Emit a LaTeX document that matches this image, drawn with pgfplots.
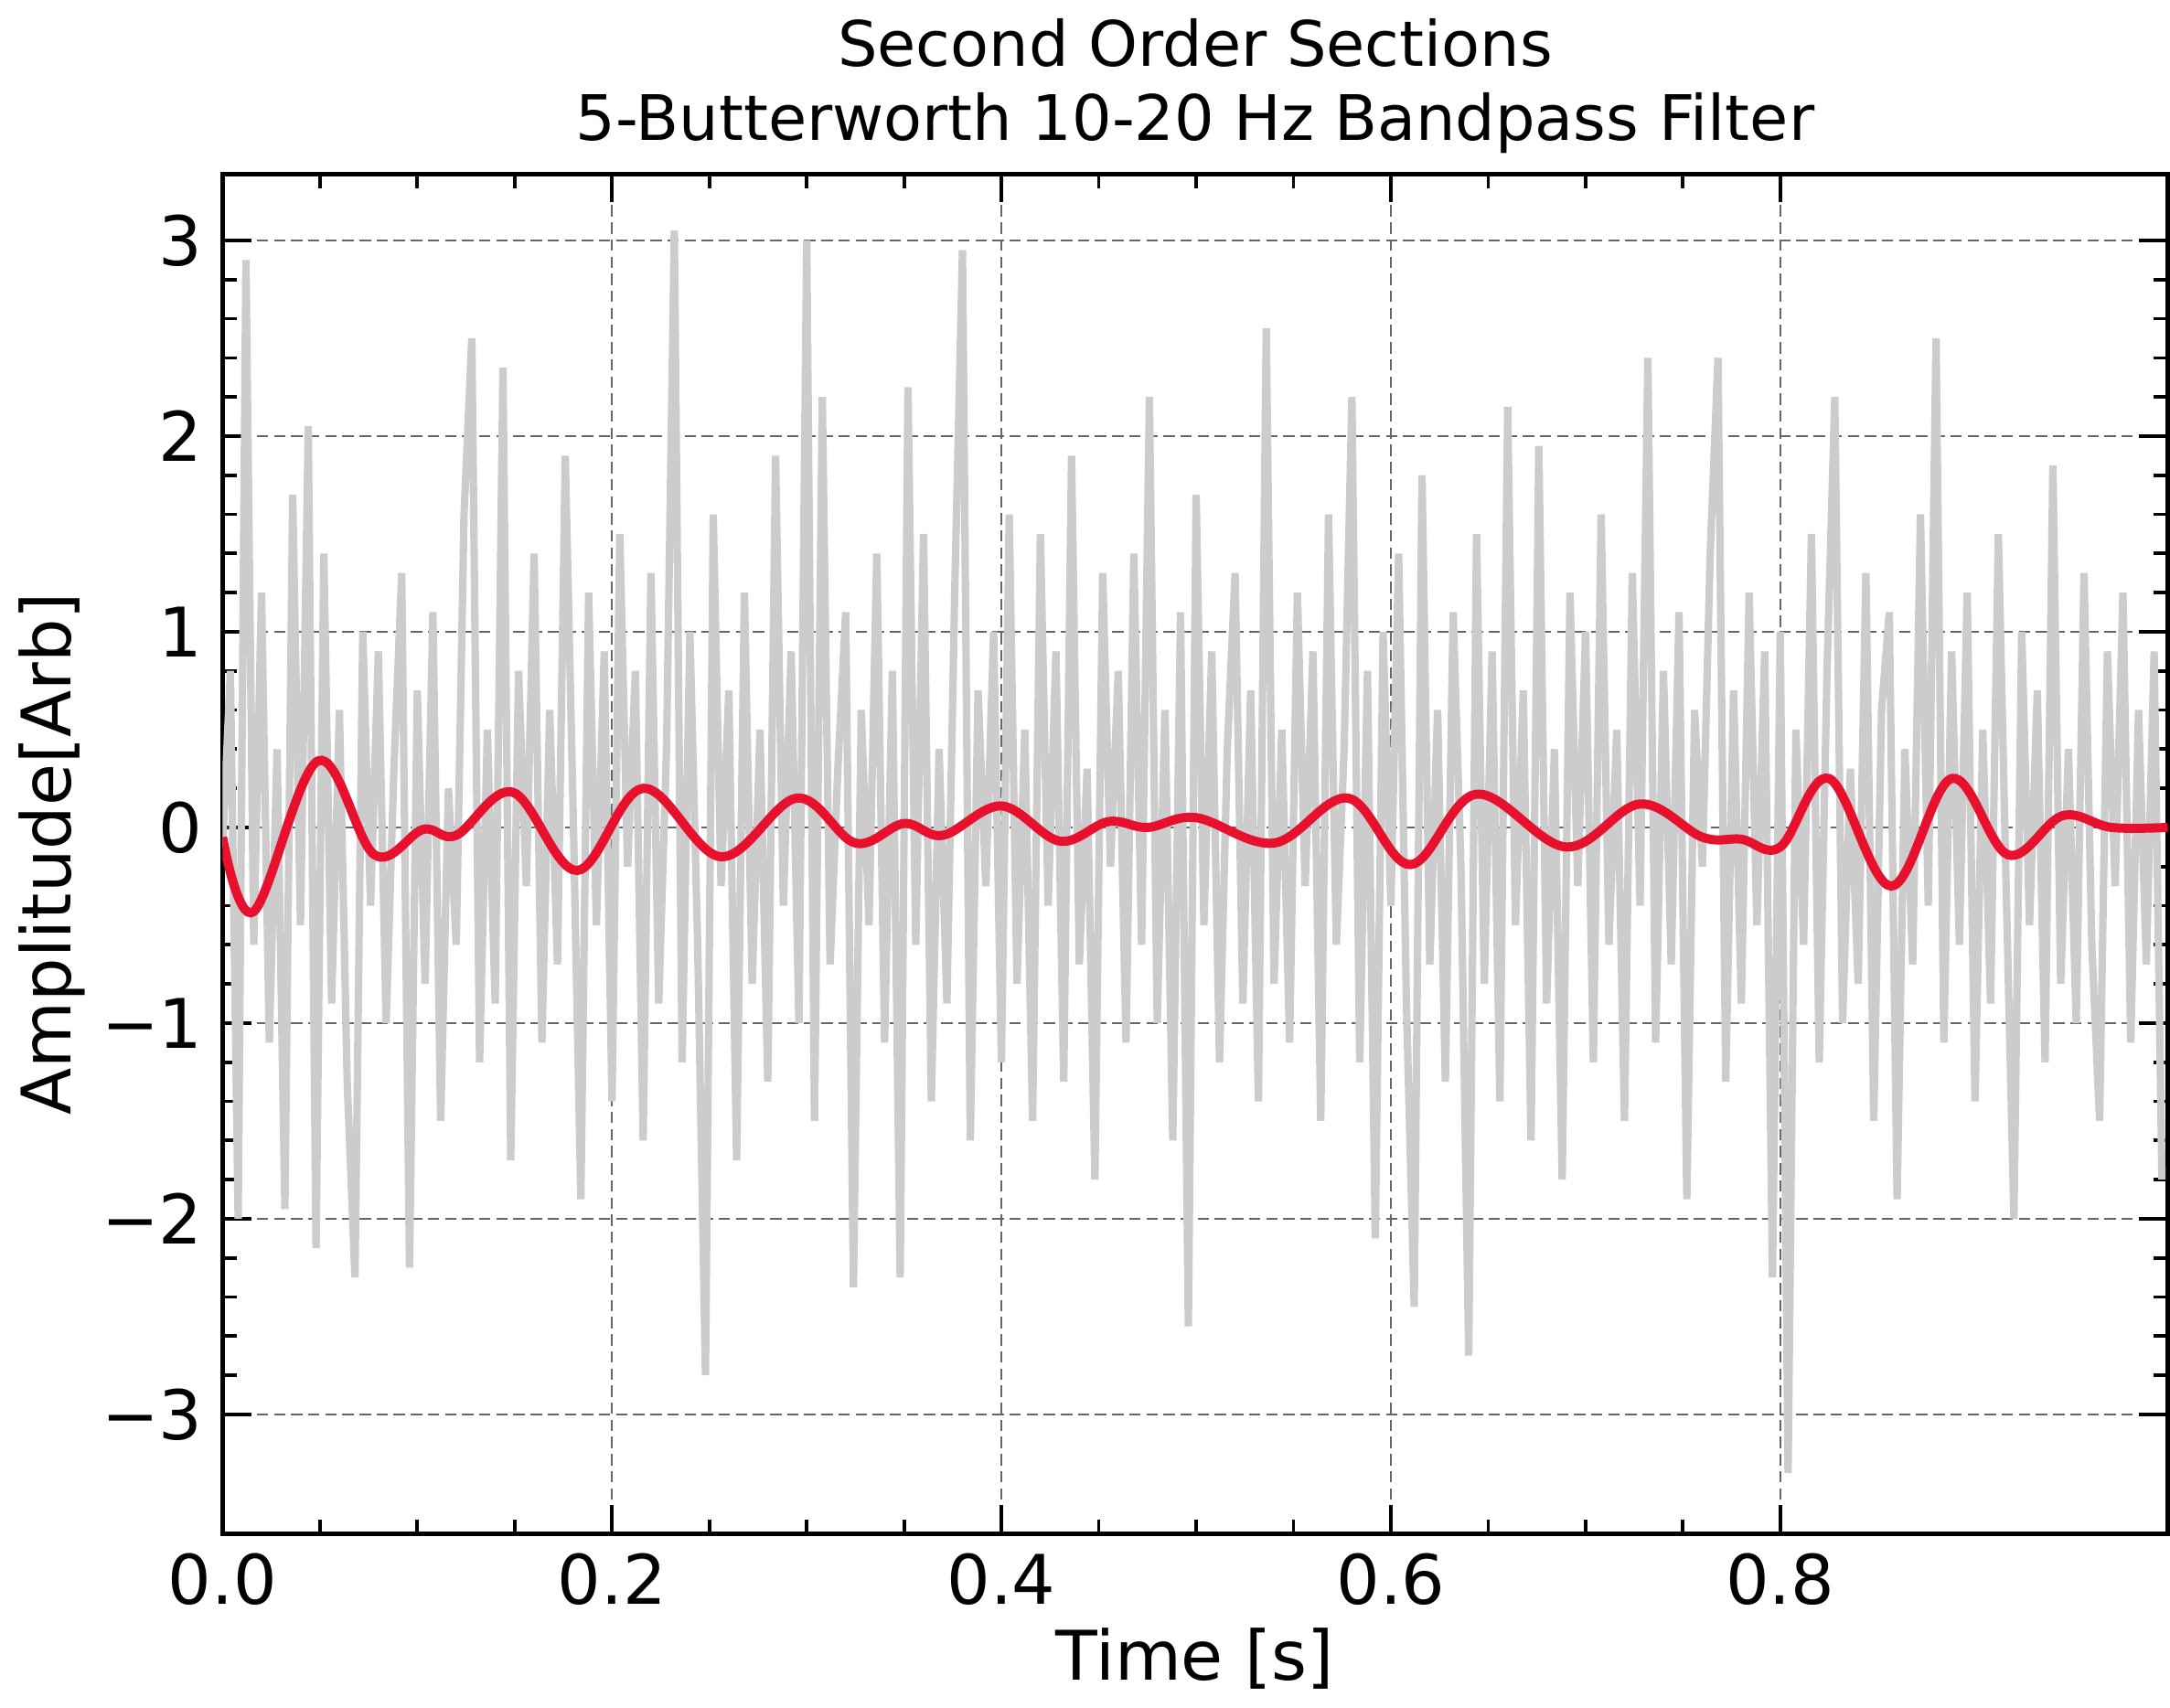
\documentclass[border=0pt]{standalone}
\usepackage{pgfplots}
\pgfplotsset{compat=1.18}
\usepackage{pgfplotstable}
\usepackage{fontspec}
\setmainfont{DejaVu Sans}
\definecolor{fred}{HTML}{E8112D}
\pgfplotstableread{
y
-0.1
0.8
-2.0
2.9
-0.6
1.2
-1.1
0.4
-1.95
1.7
-0.5
2.05
-2.15
1.4
-0.9
0.6
-1.3
-2.3
1.0
-0.4
0.9
-1.0
0.3
1.3
-2.25
0.7
-0.8
1.1
-1.5
0.2
-0.6
1.6
2.5
-1.2
0.5
-0.9
2.35
-1.7
0.8
-0.3
1.4
-1.1
0.6
-0.7
1.9
0.1
-1.9
1.2
-0.5
0.9
-1.4
1.5
-0.2
0.8
-1.6
1.3
-0.9
0.4
3.05
-1.2
1.0
-0.6
-2.8
1.6
-0.3
0.7
-1.7
1.2
-0.8
0.5
-1.3
1.9
-0.4
0.9
-1.0
3.0
-1.5
2.2
-0.7
0.3
1.1
-2.35
0.6
-0.5
1.4
-1.1
0.8
-2.3
2.25
-0.6
1.5
-1.4
0.4
-0.9
1.2
2.95
-1.6
0.7
-0.3
1.0
-1.2
1.6
-0.8
0.5
-1.5
1.5
-0.4
0.9
-1.3
1.9
-0.7
0.3
-1.8
1.3
-0.2
0.8
-1.1
1.4
-0.6
2.2
-1.0
0.6
-1.6
1.1
-2.55
1.7
-0.5
0.9
-1.2
0.4
1.3
-0.9
0.7
-1.4
2.55
-0.8
0.5
-1.1
1.2
-0.3
0.9
-1.5
1.6
-0.6
0.4
2.2
-1.2
0.8
-2.1
1.0
-0.4
1.4
-0.9
-2.45
1.8
-0.7
0.6
-1.3
1.1
-0.2
-2.7
1.5
-0.8
0.9
-1.4
2.15
-0.5
0.7
-1.6
1.95
-0.9
0.4
-1.8
1.2
-0.3
1.0
-1.2
1.6
-0.6
0.5
-1.5
1.3
-0.4
2.4
-1.1
0.8
-0.7
1.1
-1.9
0.6
-0.2
1.4
2.4
-1.3
0.7
-0.9
1.2
-0.5
0.9
-2.3
1.0
-3.3
0.5
-0.6
1.5
-1.2
0.8
2.2
-1.0
0.3
-0.8
1.3
-1.5
0.6
1.1
-1.9
0.4
-0.7
1.6
-0.4
2.5
-1.1
0.9
-0.6
1.2
-1.4
0.5
-0.9
1.5
-0.3
-2.0
1.0
-0.5
0.7
-1.2
1.85
-0.8
0.4
-1.0
1.3
-0.6
-1.5
0.9
-0.3
1.2
-1.1
0.6
-0.7
0.9
-1.8
}\noisetable
\begin{document}
\begin{tikzpicture}
\begin{axis}[
  scale only axis, width=4.72in, height=3.3in,
  xmin=0, xmax=0.999, ymin=-3.61, ymax=3.34,
  xtick={0,0.2,0.4,0.6,0.8},
  xticklabels={0.0,0.2,0.4,0.6,0.8},
  ytick={-3,-2,-1,0,1,2,3},
  yticklabels={−3,−2,−1,0,1,2,3},
  minor x tick num=3, minor y tick num=4,
  tick align=inside, tick pos=both,
  major tick length=5pt, minor tick length=2.5pt,
  tick style={black, line width=0.6pt},
  axis line style={line width=0.8pt},
  grid=major, major grid style={dash pattern=on 2pt off 1pt, black!60, line width=0.3pt},
  ticklabel style={font=\fontsize{12}{14}\selectfont},
  label style={font=\fontsize{12}{14}\selectfont},
  xlabel={Time [s]}, ylabel={Amplitude[Arb]},
  ylabel style={yshift=-4pt},
  xlabel style={yshift=3pt},
  title style={font=\fontsize{11}{13}\selectfont, align=center, yshift=-6pt},
  title={Second Order Sections\\5-Butterworth 10-20 Hz Bandpass Filter},
]
\addplot[color=black!20, line width=1.3pt] table[x expr=\coordindex*0.004, y=y] {\noisetable};
\addplot[color=fred, line width=1.6pt, smooth, tension=0.6] coordinates {
(0,-0.05) (0.016,-0.43) (0.049,0.34) (0.078,-0.14) (0.103,-0.01) (0.12,-0.04) (0.149,0.18) (0.182,-0.22) (0.216,0.2) (0.256,-0.15) (0.295,0.15) (0.325,-0.08) (0.35,0.02) (0.37,-0.04) (0.4,0.11) (0.43,-0.07) (0.455,0.03) (0.475,0.0) (0.5,0.05) (0.54,-0.08) (0.578,0.15) (0.61,-0.19) (0.644,0.17) (0.69,-0.1) (0.728,0.12) (0.76,-0.05) (0.78,-0.06) (0.8,-0.1) (0.825,0.25) (0.857,-0.3) (0.888,0.25) (0.917,-0.14) (0.945,0.06) (0.97,0.0) (0.999,0.0)};
\end{axis}
\end{tikzpicture}
\end{document}
